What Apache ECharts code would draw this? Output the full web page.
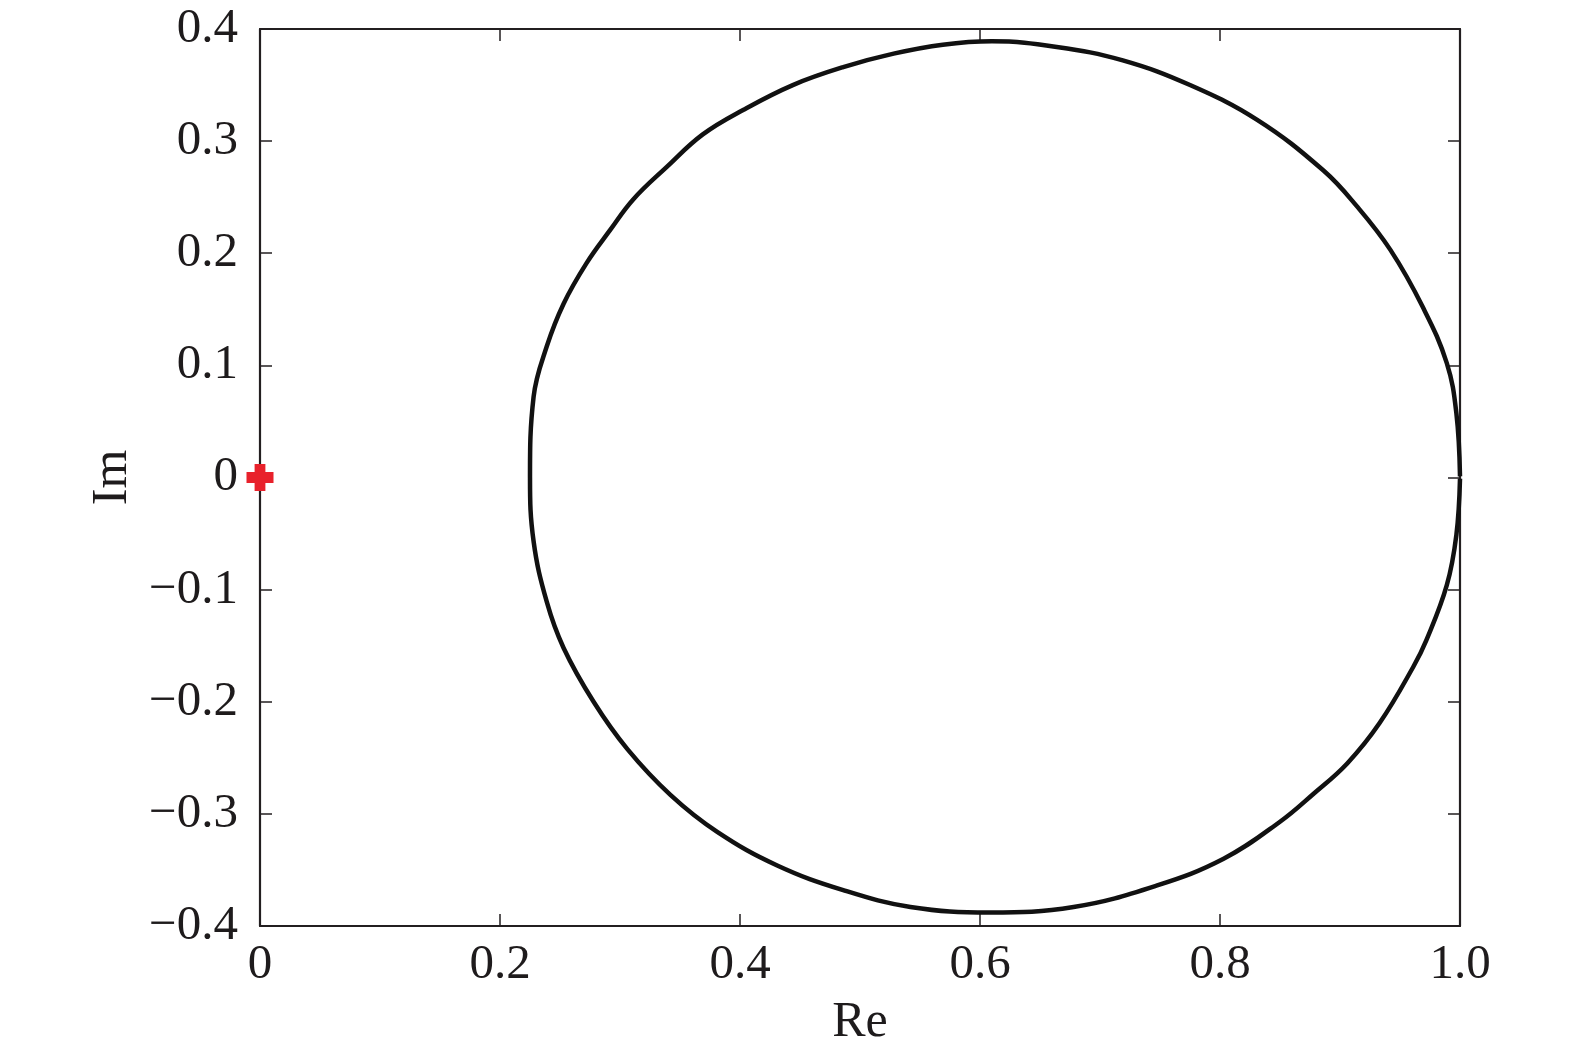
<!DOCTYPE html>
<html>
<head>
<meta charset="utf-8">
<script src="https://cdn.jsdelivr.net/npm/echarts@6/dist/echarts.min.js"></script>
<style>
html,body{margin:0;padding:0;background:#fff;}
#chart{width:1575px;height:1054px;}
</style>
</head>
<body>
<div id="chart"></div>
<script>
// Nyquist curve (Re, Im pairs in order along the loop)
var curveRe = [1.000,0.997,0.989,0.972,0.961,0.933,0.906,0.878,0.850,0.803,0.747,0.678,0.608,
  0.542,0.486,0.431,0.381,0.342,0.306,0.278,0.253,0.239,0.228,0.225,
  0.228,0.239,0.253,0.272,0.292,0.311,0.339,0.369,0.403,0.444,0.486,0.528,0.569,0.610,
  0.664,0.719,0.775,0.831,0.886,0.914,0.942,0.969,0.989,0.997,1.000];
var curveIm = [-0.001,-0.051,-0.096,-0.145,-0.169,-0.219,-0.255,-0.282,-0.307,-0.340,-0.364,-0.383,-0.388,
  -0.383,-0.368,-0.346,-0.316,-0.283,-0.242,-0.200,-0.152,-0.111,-0.057,0.000,
  0.072,0.117,0.155,0.191,0.221,0.248,0.277,0.306,0.328,0.350,0.366,0.378,0.386,0.389,
  0.384,0.372,0.350,0.319,0.274,0.242,0.203,0.152,0.102,0.057,0.001];
// critical point marker
var markerRe = [0];
var markerIm = [0];
// axis settings
var xTicks = {min: 0, max: 1.0, step: 0.2};
var yTicks = {min: -0.4, max: 0.4, step: 0.1};
var xName = 'Re';
var yName = 'Im';

var curveData = curveRe.map(function (r, i) { return [r, curveIm[i]]; });
var markerData = markerRe.map(function (r, i) { return [r, markerIm[i]]; });

var FONT = "'Liberation Serif','Times New Roman',serif";
var TXT = '#1e1b1c';
var AX = '#231f20';

function fmtX(v) { return Math.abs(v) < 1e-9 ? '0' : v.toFixed(1); }
function fmtY(v) {
  if (Math.abs(v) < 1e-9) return '0';
  var s = Math.abs(v).toFixed(1);
  return v < 0 ? '\u2212' + s : s;
}

var chart = echarts.init(document.getElementById('chart'), null, {renderer: 'canvas'});
var common = {
  axisLine: {show: true, onZero: false, lineStyle: {color: AX, width: 2.2}},
  axisTick: {show: true, inside: true, length: 12, lineStyle: {color: AX, width: 1.5}},
  splitLine: {show: false}
};
chart.setOption({
  backgroundColor: '#ffffff',
  animation: false,
  grid: {left: 260, top: 29, width: 1200, height: 897, containLabel: false},
  xAxis: [
    Object.assign({
      type: 'value', position: 'bottom',
      min: xTicks.min, max: xTicks.max, interval: xTicks.step,
      name: xName, nameLocation: 'middle', nameGap: 72,
      nameTextStyle: {fontFamily: FONT, fontSize: 50, color: TXT},
      axisLabel: {show: true, margin: 15, formatter: fmtX, fontFamily: FONT, fontSize: 49, color: TXT}
    }, common),
    Object.assign({
      type: 'value', position: 'top',
      min: xTicks.min, max: xTicks.max, interval: xTicks.step,
      axisLabel: {show: false}
    }, common)
  ],
  yAxis: [
    Object.assign({
      type: 'value', position: 'left',
      min: yTicks.min, max: yTicks.max, interval: yTicks.step,
      name: yName, nameLocation: 'middle', nameGap: 122, nameRotate: 90,
      nameTextStyle: {fontFamily: FONT, fontSize: 50, color: TXT},
      axisLabel: {show: true, margin: 22, formatter: fmtY, fontFamily: FONT, fontSize: 49, color: TXT}
    }, common),
    Object.assign({
      type: 'value', position: 'right',
      min: yTicks.min, max: yTicks.max, interval: yTicks.step,
      axisLabel: {show: false}
    }, common)
  ],
  series: [
    {
      type: 'line', data: curveData, showSymbol: false, smooth: 0.4,
      xAxisIndex: 0, yAxisIndex: 0, clip: false,
      lineStyle: {color: '#111111', width: 4.5}
    },
    {
      type: 'scatter', data: markerData, xAxisIndex: 0, yAxisIndex: 0,
      symbol: 'path://M3,0 H7 V3 H10 V7 H7 V10 H3 V7 H0 V3 H3 Z',
      symbolSize: 27, z: 5,
      itemStyle: {color: '#e8212b', opacity: 1}
    }
  ]
});
</script>
</body>
</html>
